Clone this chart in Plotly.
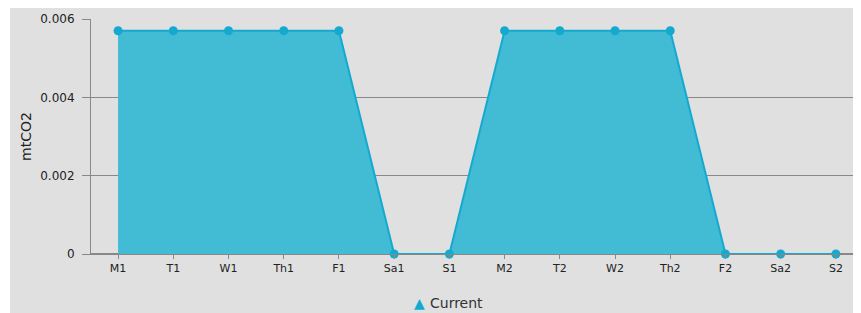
import plotly.graph_objects as go

days = ["M1", "T1", "W1", "Th1", "F1", "Sa1", "S1", "M2", "T2", "W2", "Th2", "F2", "Sa2", "S2"]
current = [0.0057, 0.0057, 0.0057, 0.0057, 0.0057, 0, 0, 0.0057, 0.0057, 0.0057, 0.0057, 0, 0, 0]
y_ticks = [0, 0.002, 0.004, 0.006]
y_tick_text = ["0", "0.002", "0.004", "0.006"]
series_name = "Current"

# page has an 8px body margin, so figure is a bit smaller than the window
W, H = 853, 305
L, R, T, B = 83, 3, 11, 59
pw, ph = W - L - R, H - T - B

fill = "#42bbd5"
line_c = "#14aacf"

fig = go.Figure()
fig.add_trace(go.Scatter(
    x=days, y=current, mode="lines+markers", fill="tozeroy", name=series_name,
    fillcolor=fill, line=dict(color=line_c, width=2),
    marker=dict(color=line_c, size=9), showlegend=False, cliponaxis=False,
))

fig.add_shape(type="rect", xref="paper", yref="paper",
              x0=(2 - L) / pw, x1=1 + R / pw,
              y0=-(B) / ph, y1=1 + T / ph,
              fillcolor="#e0e0e0", line_width=0, layer="below")

# legend drawn as annotations so it doesn't push the plot margins
y_bottom = -B / ph
fig.add_annotation(xref="paper", yref="paper", x=(411 - L) / pw, y=y_bottom,
                   text="▲", showarrow=False, xanchor="center", yanchor="bottom",
                   font=dict(size=14, color=line_c))
fig.add_annotation(xref="paper", yref="paper", x=(420 - L) / pw, y=y_bottom,
                   text=series_name, showarrow=False, xanchor="left", yanchor="bottom",
                   font=dict(size=14, color="#333"))

fig.update_layout(
    width=W, height=H,
    margin=dict(l=L, r=R, t=T, b=B),
    paper_bgcolor="white", plot_bgcolor="#e0e0e0",
    font=dict(family="DejaVu Sans", size=11, color="#333"),
    showlegend=False,
    xaxis=dict(type="category", range=[-0.49, 13.4], showgrid=False,
               showline=True, linecolor="#888", linewidth=1,
               ticks="outside", ticklen=4, tickcolor="#888",
               tickfont=dict(size=11, color="#222")),
    yaxis=dict(range=[0, 0.006], tickvals=y_ticks, ticktext=y_tick_text,
               showgrid=True, gridcolor="#888", gridwidth=1,
               showline=True, linecolor="#888", linewidth=1,
               ticks="outside", ticklen=8, tickcolor="#888", ticklabelstandoff=5,
               zeroline=True, zerolinecolor="#888",
               tickfont=dict(size=12, color="#222"),
               title=dict(text="mtCO2", font=dict(size=14, color="#222"), standoff=5)),
)

fig.write_html("out.html")
